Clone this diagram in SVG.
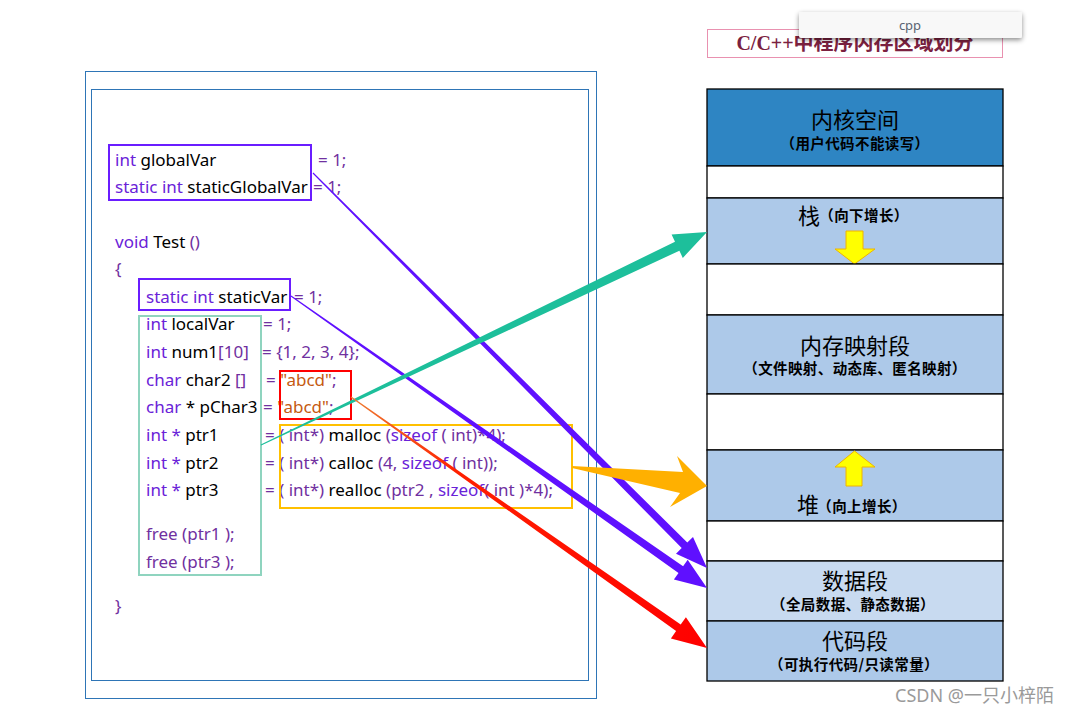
<svg xmlns="http://www.w3.org/2000/svg" width="1082" height="714" viewBox="0 0 1082 714">
<style>
.code{font-family:"Noto Sans","Open Sans","DejaVu Sans",sans-serif;font-size:17px;fill:#7030a0}
.kw{fill:#6a22d8}
.id{fill:#000}
.str{fill:#c55a11}
.frame{fill:none;stroke:#2e75b6;stroke-width:1}
.box{fill:none;stroke-width:2}
.seg{stroke:#000;stroke-width:1.3}
.big{font-family:"Noto Sans CJK SC",sans-serif;font-size:22px;fill:#000;text-anchor:middle}
.sub{font-family:"Noto Sans CJK SC",sans-serif;font-size:14.5px;font-weight:bold;fill:#000;text-anchor:middle;letter-spacing:0.4px}
.yarrow{fill:#ffff00;stroke:#f0b400;stroke-width:1}
</style>
<defs>
<linearGradient id="redg" gradientUnits="userSpaceOnUse" x1="351" y1="397" x2="707" y2="648">
<stop offset="0" stop-color="#ed7d31"/>
<stop offset="0.3" stop-color="#ff2000"/>
<stop offset="1" stop-color="#ff0000"/>
</linearGradient>
<filter id="shadow" x="-10%" y="-40%" width="120%" height="200%">
<feDropShadow dx="0" dy="2" stdDeviation="2.5" flood-color="#000" flood-opacity="0.45"/>
</filter>
</defs>
<rect width="1082" height="714" fill="#fff"/>

<g id="code-frame">
<rect class="frame" x="85.5" y="71.5" width="511" height="627"/>
<rect class="frame" x="91.5" y="89.5" width="497" height="591"/>
</g>

<g id="code">
<text class="code" x="115" y="166"><tspan class="kw">int</tspan><tspan class="id"> globalVar</tspan></text>
<text class="code" x="318" y="166">= 1;</text>
<text class="code" x="115" y="193"><tspan class="kw">static int</tspan><tspan class="id"> staticGlobalVar</tspan></text>
<text class="code" x="313" y="193">= 1;</text>
<text class="code" x="115" y="248"><tspan class="kw">void</tspan><tspan class="id"> Test</tspan> ()</text>
<text class="code" x="115" y="275">{</text>
<text class="code" x="146" y="303"><tspan class="kw">static int</tspan><tspan class="id"> staticVar</tspan></text>
<text class="code" x="294" y="303">= 1;</text>
<text class="code" x="146" y="330"><tspan class="kw">int</tspan><tspan class="id"> localVar</tspan></text>
<text class="code" x="263" y="330">= 1;</text>
<text class="code" x="146" y="358"><tspan class="kw">int</tspan><tspan class="id"> num1</tspan>[10]</text>
<text class="code" x="262" y="358">= {1, 2, 3, 4};</text>
<text class="code" x="146" y="386"><tspan class="kw">char</tspan><tspan class="id"> char2 </tspan>[]</text>
<text class="code" x="266" y="386">= <tspan class="str">"abcd"</tspan>;</text>
<text class="code" x="146" y="413"><tspan class="kw">char</tspan><tspan class="id"> * pChar3</tspan></text>
<text class="code" x="263" y="413">= <tspan class="str">"abcd"</tspan>;</text>
<text class="code" x="146" y="441"><tspan class="kw">int *</tspan><tspan class="id"> ptr1</tspan></text>
<text class="code" x="265" y="441">= ( int*)<tspan class="id"> malloc</tspan> (<tspan class="kw">sizeof</tspan> ( int)*4);</text>
<text class="code" x="146" y="469"><tspan class="kw">int *</tspan><tspan class="id"> ptr2</tspan></text>
<text class="code" x="265" y="469">= ( int*)<tspan class="id"> calloc</tspan> (4, <tspan class="kw">sizeof</tspan> ( int));</text>
<text class="code" x="146" y="496"><tspan class="kw">int *</tspan><tspan class="id"> ptr3</tspan></text>
<text class="code" x="265" y="496">= ( int*)<tspan class="id"> realloc</tspan> (ptr2 , <tspan class="kw">sizeof</tspan>( int )*4);</text>
<text class="code" x="146" y="540">free (ptr1 );</text>
<text class="code" x="146" y="568">free (ptr3 );</text>
<text class="code" x="115" y="612">}</text>
</g>

<g id="highlight-boxes">
<rect class="box" x="109" y="145" width="202" height="55" stroke="#6a1dff"/>
<rect class="box" x="139" y="279" width="151" height="31" stroke="#6a1dff"/>
<rect class="box" x="139" y="316" width="122" height="259" stroke="#8fd4bf"/>
<rect class="box" x="280" y="371" width="71" height="48" stroke="#ff0000"/>
<rect class="box" x="280" y="425" width="292" height="83" stroke="#ffc000"/>
</g>

<g id="title">
<rect x="707.5" y="29.5" width="295" height="28" fill="#fff" stroke="#e991b0" stroke-width="1"/>
<text x="855" y="50" text-anchor="middle" font-family="'Liberation Serif','Noto Sans CJK SC',serif" font-size="20" font-weight="bold" fill="#7b2140">C/C++中程序内存区域划分</text>
</g>

<g id="kernel">
<rect class="seg" x="707" y="89" width="296" height="77" fill="#2e85c3"/>
<text class="big" x="855" y="128">内核空间</text>
<text class="sub" x="855" y="149">（用户代码不能读写）</text>
</g>
<g id="gap1"><rect class="seg" x="707" y="166" width="296" height="32" fill="#fff"/></g>
<g id="stack">
<rect class="seg" x="707" y="198" width="296" height="66" fill="#adc9e9"/>
<text x="809" y="224" font-family="'Noto Sans CJK SC',sans-serif" font-size="22" text-anchor="middle">栈</text>
<text class="sub" x="864" y="221">（向下增长）</text>
<polygon class="yarrow" points="846,231 863,231 863,249 875,249 854.5,264 835,249 846,249"/>
</g>
<g id="gap2"><rect class="seg" x="707" y="264" width="296" height="51" fill="#fff"/></g>
<g id="mmap">
<rect class="seg" x="707" y="315" width="296" height="79" fill="#adc9e9"/>
<text class="big" x="855" y="354">内存映射段</text>
<text class="sub" x="855" y="374">（文件映射、动态库、匿名映射）</text>
</g>
<g id="gap3"><rect class="seg" x="707" y="394" width="296" height="56" fill="#fff"/></g>
<g id="heap">
<rect class="seg" x="707" y="450" width="296" height="71" fill="#adc9e9"/>
<polygon class="yarrow" points="854.5,451 875,467 862,467 862,486 846,486 846,467 835,467"/>
<text x="808" y="513" font-family="'Noto Sans CJK SC',sans-serif" font-size="22" text-anchor="middle">堆</text>
<text class="sub" x="862" y="512">（向上增长）</text>
</g>
<g id="gap4"><rect class="seg" x="707" y="521" width="296" height="40" fill="#fff"/></g>
<g id="data">
<rect class="seg" x="707" y="561" width="296" height="60" fill="#c8daf0"/>
<text class="big" x="855" y="589">数据段</text>
<text class="sub" x="853" y="610">（全局数据、静态数据）</text>
</g>
<g id="text-seg">
<rect class="seg" x="707" y="621" width="296" height="60" fill="#adc9e9"/>
<text class="big" x="855" y="649">代码段</text>
<text class="sub" x="854" y="670">（可执行代码/只读常量）</text>
</g>

<g id="connectors">
<polygon fill="#5f10ff" points="313.4,172.6 687.3,542.5 693.0,536.9 707,568 676.0,553.7 681.7,548.1 312.6,173.4"/>
<polygon fill="#5f10ff" points="291.3,295.6 683.1,566.3 687.7,559.8 707,588 673.9,579.4 678.5,572.9 290.7,296.4"/>
<polygon fill="#1dbf9b" points="260.8,444.5 675.0,241.7 671.6,234.5 707,232 682.8,257.9 679.4,250.7 261.2,445.5"/>
<polygon fill="#ffb000" points="572,466 683,472 677,456 707,486 670,507 680,493 572,468"/>
<polygon fill="url(#redg)" points="351.3,396.6 680.7,624.5 685.9,617.2 707,648 670.9,638.4 676.1,631.1 350.7,397.4"/>
</g>

<g id="popup">
<rect x="799" y="12" width="223" height="26" rx="2" fill="#f8f8f8" filter="url(#shadow)"/>
<text x="910" y="30" text-anchor="middle" font-family="'Noto Sans','Open Sans',sans-serif" font-size="13" fill="#5a6473">cpp</text>
</g>

<text x="895" y="702" font-family="'Noto Sans','Noto Sans CJK SC',sans-serif" font-size="18" fill="#9a9a9a">CSDN @一只小梓陌</text>
</svg>
